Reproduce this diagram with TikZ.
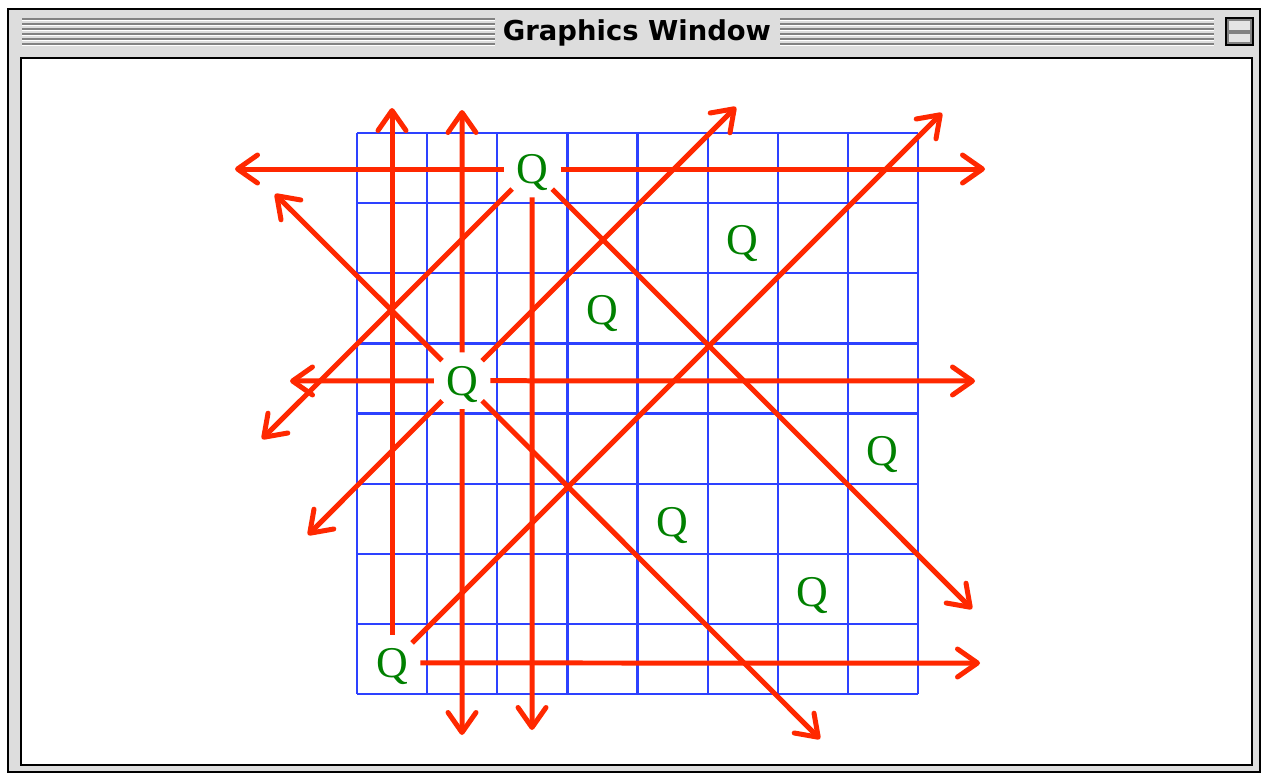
\documentclass[tikz,border=0pt]{standalone}
\usepackage{fontspec}
\setmainfont{Liberation Serif}
\newfontfamily\titlefont{DejaVu Sans}
\usetikzlibrary{arrows.meta}
\definecolor{boardblue}{RGB}{45,65,255}
\definecolor{queengreen}{RGB}{0,128,0}
\definecolor{rayred}{RGB}{255,40,0}
\definecolor{framegrey}{RGB}{221,221,221}
\definecolor{stripegrey}{RGB}{130,130,130}

\begin{document}
\begin{tikzpicture}[x=0.02cm, y=-0.02cm,
  board/.style={boardblue, line width=0.045cm},
  ray/.style={rayred, line width=0.1cm, -{Straight Barb[length=0.4cm,width=0.56cm,round]}},
  queen/.style={circle, minimum size=1.12cm, inner sep=0pt, text depth=0pt, text=queengreen, font=\fontsize{25}{25}\selectfont},
  stripe/.style={stripegrey, line width=0.03cm}]
  \useasboundingbox (0,0) rectangle (1265,774);

  \draw[fill=framegrey, line width=0.04cm] (8,9) rectangle (1260,772);
  \foreach \s in {19,24,...,44} {
    \draw[stripe] (22,\s) -- (495,\s); \draw[stripe] (780,\s) -- (1214,\s);
    \draw[white, line width=0.02cm] (22,\s+1.6) -- (495,\s+1.6); \draw[white, line width=0.02cm] (780,\s+1.6) -- (1214,\s+1.6);
  }
  \node[font=\titlefont\bfseries\fontsize{15.6}{16}\selectfont] (title) at (637,33) {Graphics Window};
  \draw[fill=stripegrey, line width=0.04cm] (1226,18) rectangle (1253,45);
  \draw[fill=framegrey!80, draw=none] (1229,21) rectangle (1250,30); \draw[fill=framegrey!80, draw=none] (1229,34) rectangle (1250,42);
  \draw[fill=white, line width=0.05cm] (21,58) rectangle (1252,765);

  \foreach \k in {0,...,8} {
    \draw[board] ({357+70.125*\k},133) -- ({357+70.125*\k},694);
    \draw[board] (357,{133+70.125*\k}) -- (918,{133+70.125*\k});
  }

  \foreach \c/\r in {2/0,5/1,3/2,1/3,7/4,4/5,6/6,0/7}
    \node[queen] (q\r) at ({392+70.1*\c},{169+70.57*\r}) {Q};

  \coordinate (q0w) at (235,169); \coordinate (q0e) at (985,169); \coordinate (q0s) at (532,730);
  \coordinate (q0sw) at (262,439); \coordinate (q0se) at (972,609);
  \coordinate (q3w) at (290,381); \coordinate (q3e) at (975,381); \coordinate (q3n) at (462,110);
  \coordinate (q3s) at (462,735); \coordinate (q3ne) at (736,107); \coordinate (q3nw) at (275,194);
  \coordinate (q3sw) at (308,535); \coordinate (q3se) at (820,739);
  \coordinate (q7n) at (392,108); \coordinate (q7e) at (980,663); \coordinate (q7ne) at (942,113);

  \foreach \t in {w,e,s,sw,se} \draw[ray] (q0) -- (q0\t);
  \foreach \t in {w,e,n,s,ne,nw,sw,se} \draw[ray] (q3) -- (q3\t);
  \foreach \t in {n,e,ne} \draw[ray] (q7) -- (q7\t);
\end{tikzpicture}
\end{document}
